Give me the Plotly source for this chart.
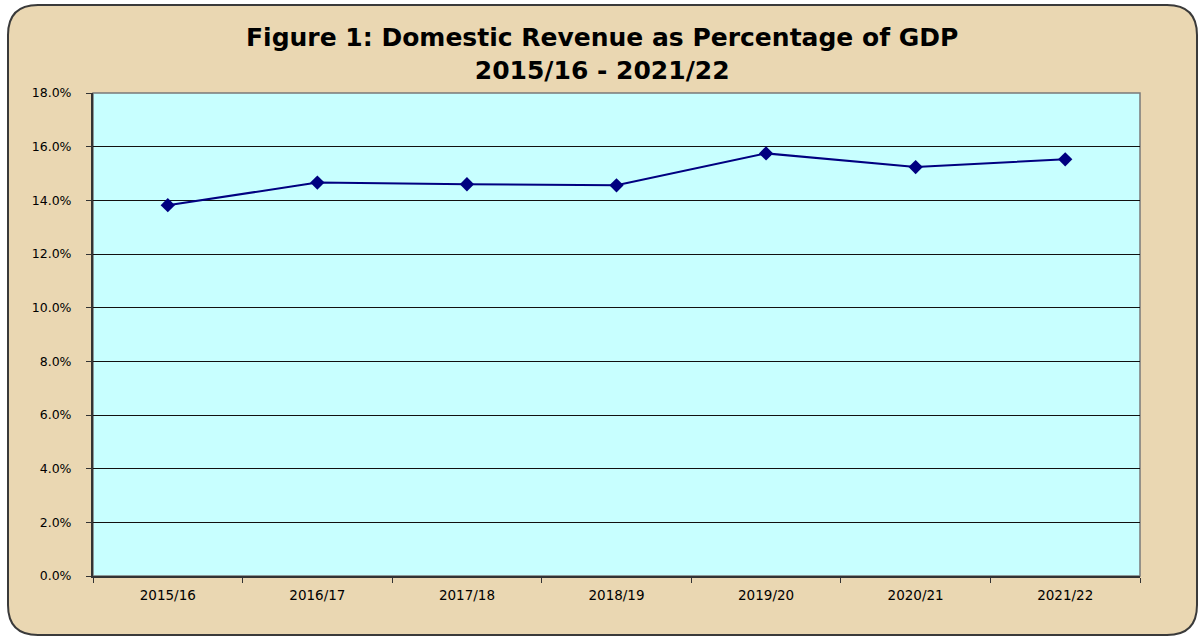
import plotly.graph_objects as go

years = ["2015/16", "2016/17", "2017/18", "2018/19", "2019/20", "2020/21", "2021/22"]
revenue_pct = [13.82, 14.66, 14.60, 14.56, 15.75, 15.24, 15.53]
y_ticks = [0, 2, 4, 6, 8, 10, 12, 14, 16, 18]

W, H = 1203, 639
L, R, T, B = 93, 63, 93, 63
pw, ph = W - L - R, H - T - B


def px(x):
    return (x - L) / pw


def py(y):
    return (H - B - y) / ph


def rounded_rect(x0, y0, x1, y1, r):
    pts = [
        ("M", [(x0 + r, y0)]),
        ("L", [(x1 - r, y0)]),
        ("Q", [(x1, y0), (x1, y0 + r)]),
        ("L", [(x1, y1 - r)]),
        ("Q", [(x1, y1), (x1 - r, y1)]),
        ("L", [(x0 + r, y1)]),
        ("Q", [(x0, y1), (x0, y1 - r)]),
        ("L", [(x0, y0 + r)]),
        ("Q", [(x0, y0), (x0 + r, y0)]),
    ]
    s = ""
    for cmd, cps in pts:
        s += cmd + " " + " ".join(f"{px(a):.5f},{py(b):.5f}" for a, b in cps) + " "
    return s + "Z"


fig = go.Figure()
fig.add_trace(go.Scatter(
    x=years, y=revenue_pct, mode="lines+markers",
    line=dict(color="#000080", width=2),
    marker=dict(symbol="diamond", size=11, color="#000080"),
    showlegend=False, hoverinfo="x+y",
))

fig.update_layout(
    width=W, height=H,
    margin=dict(l=L, r=R, t=T, b=B),
    paper_bgcolor="white",
    plot_bgcolor="#C8FFFF",
    font=dict(family="DejaVu Sans", color="black"),
    shapes=[
        dict(type="path", xref="paper", yref="paper", layer="below",
             path=rounded_rect(8, 5, 1197, 635, 30),
             fillcolor="#EAD7B2", line=dict(color="#3a3a3a", width=2)),
        dict(type="rect", xref="paper", yref="paper", layer="below",
             x0=0, x1=1, y0=0, y1=1, fillcolor="#C8FFFF",
             line=dict(color="#7a7a7a", width=1.5)),
    ],
    annotations=[
        dict(text="<b>Figure 1: Domestic Revenue as Percentage of GDP</b><br><b>2015/16 - 2021/22</b>",
             xref="paper", yref="paper", x=px(602), y=py(54), xanchor="center", yanchor="middle",
             showarrow=False, font=dict(size=25, color="black", family="DejaVu Sans")),
    ],
)

fig.update_xaxes(
    type="category", showgrid=False, showline=True, linecolor="#333333", linewidth=2,
    ticks="outside", tickson="boundaries", ticklen=5, tickcolor="#333333",
    tickfont=dict(size=13.5), range=[-0.5, 6.5], ticklabelstandoff=6,
)
fig.update_yaxes(
    range=[0, 18], tickvals=y_ticks, ticktext=[f"{v:.1f}%" for v in y_ticks],
    showgrid=True, gridcolor="#111111", gridwidth=1,
    showline=True, linecolor="#333333", linewidth=2,
    ticks="outside", ticklen=5, tickcolor="#333333",
    tickfont=dict(size=12.5), zeroline=False, ticklabelstandoff=12,
)

fig.write_html("out.html", config={"displayModeBar": False},
               post_script="document.body.style.margin='0px';")
